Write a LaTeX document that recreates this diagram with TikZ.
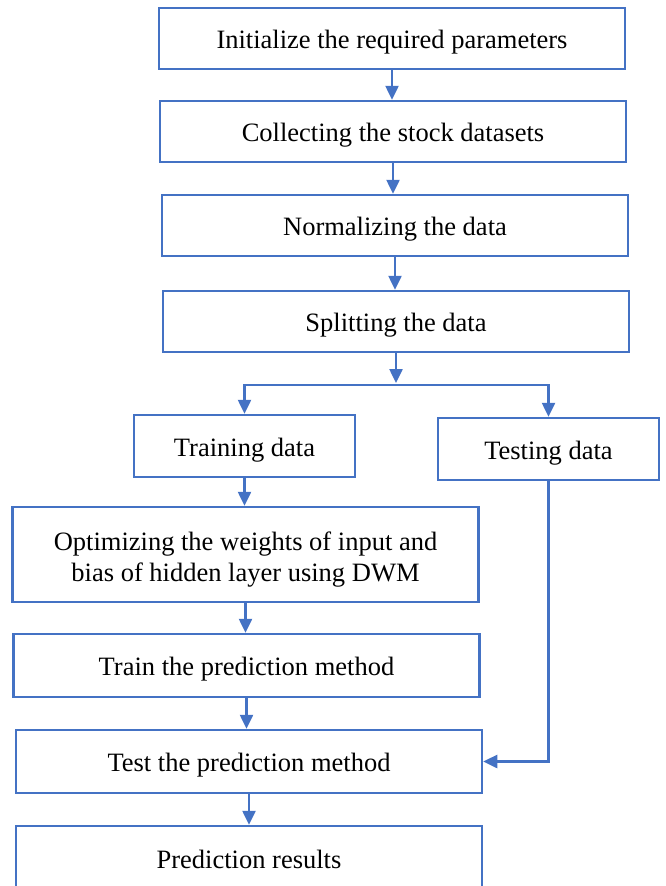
\documentclass[tikz,border=0pt]{standalone}
\usepackage{fontspec}
\setmainfont{Liberation Serif}
\usepackage{xcolor}
\usetikzlibrary{arrows.meta, positioning, calc}
\definecolor{flowblue}{HTML}{4472C4}

\begin{document}
\begin{tikzpicture}[
    x=1pt, y=-1pt,
    box/.style={draw=flowblue, line width=2.5pt, minimum height=61pt, inner sep=2pt, align=center, text height=20pt, text depth=0pt, font=\fontsize{26.5}{31}\selectfont},
    wide/.style={box, minimum width=466pt},
    small/.style={box, minimum width=221pt, minimum height=62pt},
    arrow/.style={draw=flowblue, line width=2.5pt, -{Triangle[width=13pt,length=14pt]}}
]
\useasboundingbox (0,0) rectangle (665,886);

\node[wide] (init) at (392,38.5) {Initialize the required parameters};
\node[wide] (collect) at (393,131.5) {Collecting the stock datasets};
\node[wide] (norm) at (395,225.5) {Normalizing the data};
\node[wide] (split) at (396,321.5) {Splitting the data};

\node[small] (train) at (244.5,446) {Training data};
\node[small] (test) at (548.5,449) {Testing data};

\node[wide, minimum height=95pt, text height=54pt] (optim) at (245.5,554.5) {Optimizing the weights of input and\\bias of hidden layer using DWM};
\node[wide, minimum height=63pt] (trainm) at (246.5,665.5) {Train the prediction method};
\node[wide, minimum height=63pt] (testm) at (249,761.5) {Test the prediction method};
\node[wide, minimum height=64pt] (result) at (249,858) {Prediction results};

\draw[arrow] (init.south) -- (init.south |- collect.north);
\draw[arrow] (collect.south) -- (collect.south |- norm.north);
\draw[arrow] (norm.south) -- (norm.south |- split.north);

% fork to training and testing
\coordinate (fork) at (396,385);
\draw[arrow] (split.south) -- ($(fork)+(0,-2)$);
\draw[arrow] (fork) -| (train.north);
\draw[arrow] (fork) -| (test.north);

\draw[arrow] (train.south) -- (train.south |- optim.north);
\draw[arrow] (optim.south) -- (optim.south |- trainm.north);
\draw[arrow] (trainm.south) -- (trainm.south |- testm.north);
\draw[arrow] (test.south) |- (testm.east);
\draw[arrow] (testm.south) -- (testm.south |- result.north);
\end{tikzpicture}
\end{document}
